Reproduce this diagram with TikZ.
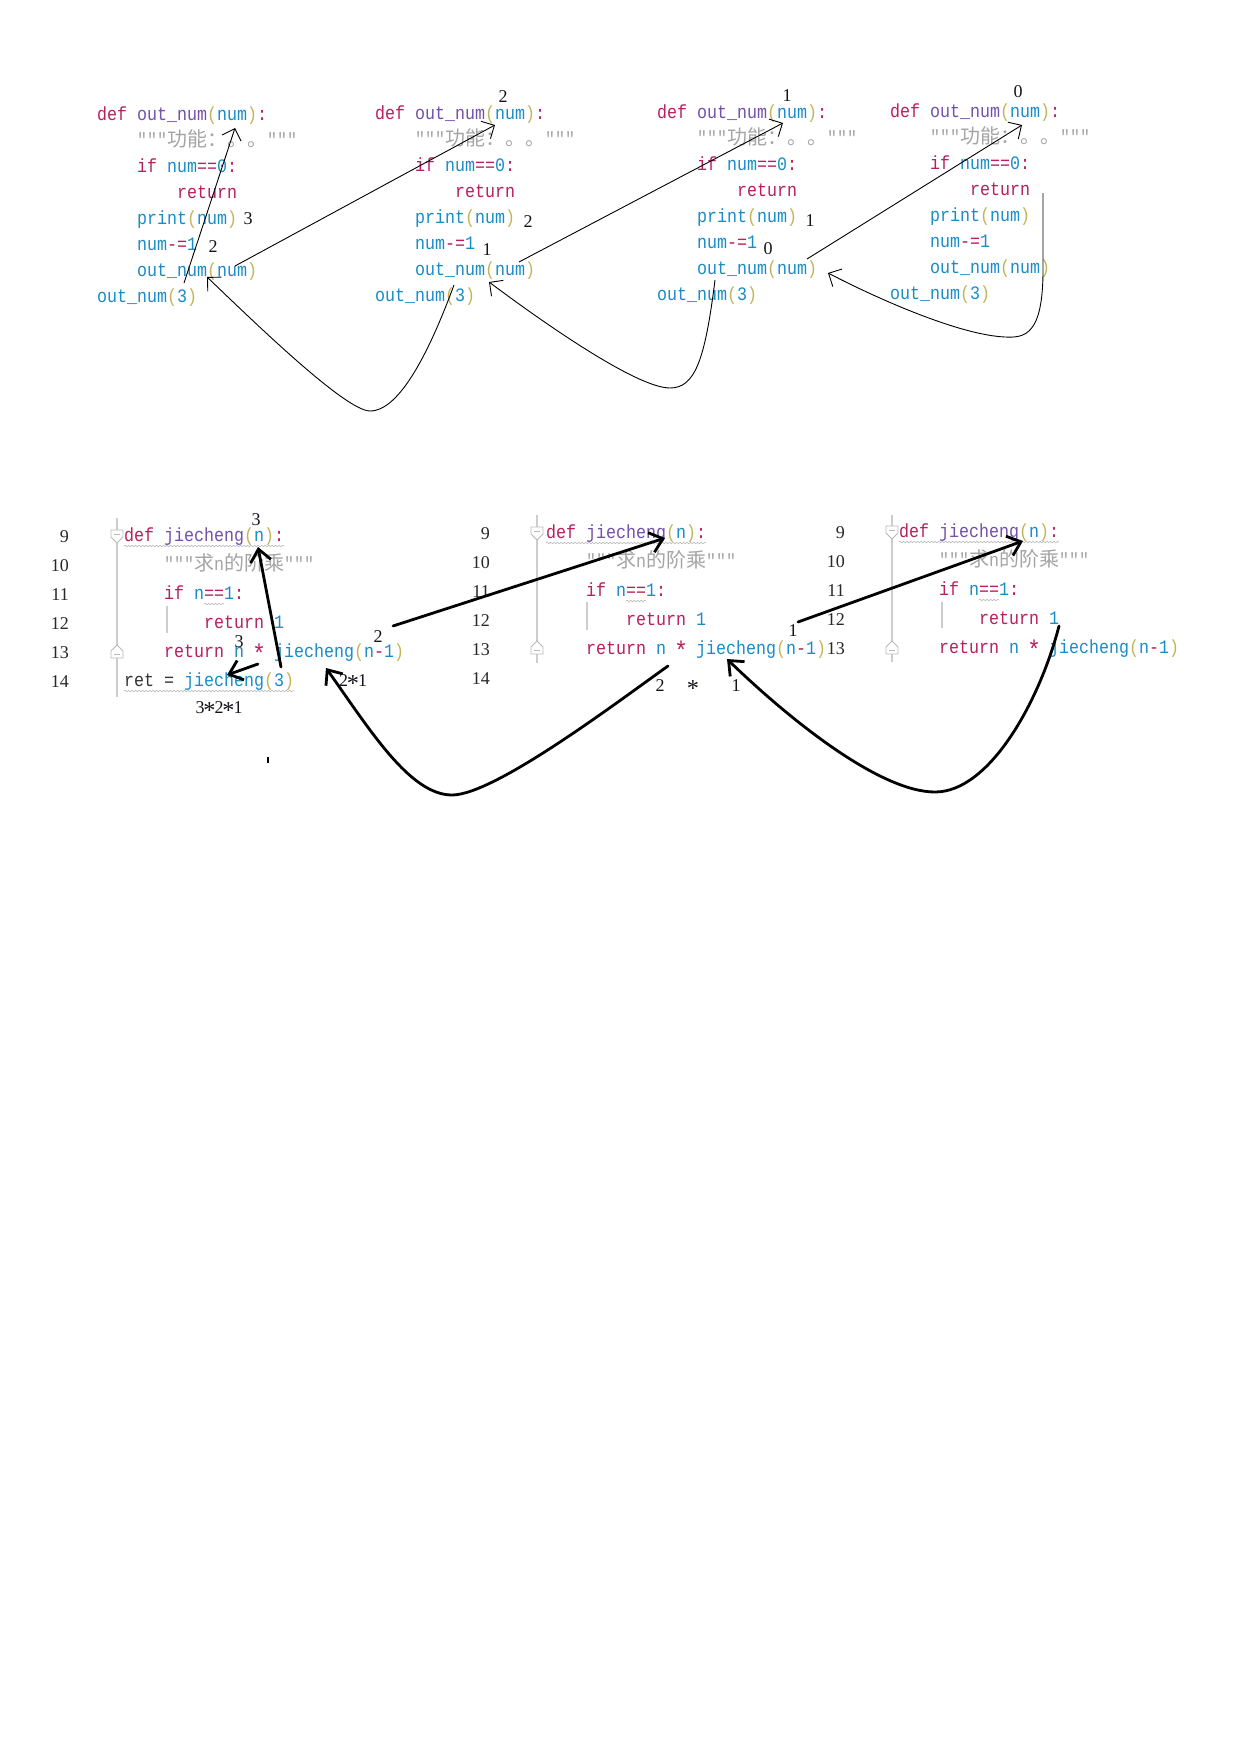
\documentclass[tikz,border=0pt]{standalone}
\usepackage{fontspec}
\setmonofont[FakeStretch=0.877]{Liberation Mono}
\newfontfamily\cjk[Scale=1.0526]{Noto Sans CJK SC}
\newfontfamily\serifann{Liberation Serif}
\usetikzlibrary{arrows.meta,decorations.pathmorphing}
\definecolor{ckw}{RGB}{185,30,95}
\definecolor{cfn}{RGB}{115,80,170}
\definecolor{cbl}{RGB}{25,140,200}
\definecolor{cpa}{RGB}{195,180,90}
\definecolor{cgy}{RGB}{165,165,165}
\definecolor{cdk}{RGB}{50,50,50}
\definecolor{cann}{RGB}{20,20,30}
\definecolor{clno}{RGB}{40,40,40}
\definecolor{cgut}{RGB}{205,205,205}
\definecolor{cfold}{RGB}{185,185,185}
\newcommand\codefont{\ttfamily\fontsize{19}{22}\selectfont}
\newcommand\annfont{\serifann\fontsize{18}{20}\selectfont}
\newcommand\cdKw[1]{\textcolor{ckw}{#1}}
\newcommand\cdFn[1]{\textcolor{cfn}{#1}}
\newcommand\cdBl[1]{\textcolor{cbl}{#1}}
\newcommand\cdPa[1]{\textcolor{cpa}{#1}}
\newcommand\cdGy[1]{\textcolor{cgy}{#1}}
\newcommand\cdDk[1]{\textcolor{cdk}{#1}}
\newcommand\cdast{\makebox[10pt]{\raisebox{-5pt}{\scalebox{1.35}{*}}}}
\newcommand\anast{\makebox[10pt]{\raisebox{-5.5pt}{\scalebox{1.35}{*}}}}
\tikzset{
  folddown/.pic={\draw[draw=cfold,fill=white,line width=0.8pt] (-6,-6) -- (6,-6) -- (6,1) -- (0,7) -- (-6,1) -- cycle;
                 \draw[cfold,line width=0.8pt] (-3,-1.5) -- (3,-1.5);},
  foldup/.pic={\draw[draw=cfold,fill=white,line width=0.8pt] (-6,6) -- (6,6) -- (6,-1) -- (0,-7) -- (-6,-1) -- cycle;
               \draw[cfold,line width=0.8pt] (-3,2) -- (3,2);}
}
\begin{document}
\begin{tikzpicture}[x=1pt,y=-1pt,
  codetext/.style={inner sep=0pt,anchor=base west,font=\codefont},
  annotext/.style={inner sep=0pt,anchor=base,font=\annfont,text=cann},
  lno/.style={inner sep=0pt,anchor=base east,font=\annfont,text=clno},
  thinarrow/.style={line width=0.9pt,-{Straight Barb[angle=90:14pt]}},
  thickarrow/.style={line width=2.8pt,line cap=round,-{Straight Barb[angle=80:16pt]}},
  gut/.style={draw=cgut,line width=1.2pt},
  wavy/.style={draw=cfold,line width=0.6pt,decorate,decoration={snake,amplitude=0.7pt,segment length=3.5pt}}]
\fill[white] (0,0) rectangle (1237,1756);

% ---------- top: out_num blocks ----------
\foreach \i/\xo/\yo in {1/97/120,2/375/119,3/657/118,4/890/117}{
  \node[codetext] (def\i) at (\xo,\yo) {\cdKw{def} \cdFn{out\_num}\cdPa{(}\cdBl{num}\cdPa{)}\cdKw{:}};
  \node[codetext] (doc\i) at (\xo+40,\yo+26) {\cdGy{"""{\cjk 功能：。。}"""}};
  \node[codetext] (if\i) at (\xo+40,\yo+52) {\cdKw{if} \cdBl{num}\cdKw{==}\cdBl{0}\cdKw{:}};
  \node[codetext] (ret\i) at (\xo+80,\yo+78) {\cdKw{return}};
  \node[codetext] (prt\i) at (\xo+40,\yo+104) {\cdBl{print}\cdPa{(}\cdBl{num}\cdPa{)}};
  \node[codetext] (dec\i) at (\xo+40,\yo+130) {\cdBl{num}\cdKw{-=}\cdBl{1}};
  \node[codetext] (call\i) at (\xo+40,\yo+156) {\cdBl{out\_num}\cdPa{(}\cdBl{num}\cdPa{)}};
  \node[codetext] (main\i) at (\xo,\yo+182) {\cdBl{out\_num}\cdPa{(}\cdBl{3}\cdPa{)}};
}
\node[annotext] (ta1) at (248,224) {3};
\node[annotext] (ta2) at (213,252) {2};
\node[annotext] (ta3) at (503,102) {2};
\node[annotext] (ta4) at (528,227) {2};
\node[annotext] (ta5) at (487,255) {1};
\node[annotext] (ta6) at (787,101) {1};
\node[annotext] (ta7) at (810,226) {1};
\node[annotext] (ta8) at (768,254) {0};
\node[annotext] (ta9) at (1018,97) {0};

\coordinate (pA1) at (184,283); \coordinate (pA2) at (235,128);
\coordinate (pB1) at (235,266); \coordinate (pB2) at (495,125);
\coordinate (pC1) at (519,262); \coordinate (pC2) at (783,123);
\coordinate (pD1) at (807,259); \coordinate (pD2) at (1022,125);
\coordinate (pE1) at (1043,193); \coordinate (pE2) at (828,273);
\coordinate (pF1) at (715,280); \coordinate (pF2) at (489,282);
\coordinate (pG1) at (454,285); \coordinate (pG2) at (207,277);
\draw[thinarrow] (pA1) -- (pA2);
\draw[thinarrow] (pB1) -- (pB2);
\draw[thinarrow] (pC1) -- (pC2);
\draw[thinarrow] (pD1) -- (pD2);
\draw[thinarrow] (pE1) -- (1043,270) .. controls (1043,335) and (1025,338) .. (1005,337) .. controls (960,335) and (880,300) .. (pE2);
\draw[thinarrow] (pF1) .. controls (705,360) and (695,388) .. (670,388) .. controls (640,388) and (560,335) .. (pF2);
\draw[thinarrow] (pG1) .. controls (430,350) and (400,411) .. (370,411) .. controls (345,411) and (250,318) .. (pG2);

% ---------- bottom: jiecheng blocks ----------
\draw[gut] (117,518) -- (117,697);
\draw[gut] (537,515) -- (537,663);
\draw[gut] (892,515) -- (892,662);
\draw[gut] (167,606) -- (167,633);
\draw[gut] (587,602) -- (587,630);
\draw[gut] (942,602) -- (942,628);
\pic at (117,536) {folddown};
\pic at (117,652) {foldup};
\pic at (537,533) {folddown};
\pic at (537,648) {foldup};
\pic at (892,532) {folddown};
\pic at (892,648) {foldup};

\foreach \k in {0,...,5}{\pgfmathtruncatemacro\lnn{9+\k}\node[lno] (lnL\k) at (69,542+29*\k) {\lnn};}
\foreach \k in {0,...,5}{\pgfmathtruncatemacro\lnn{9+\k}\node[lno] (lnM\k) at (490,539+29*\k) {\lnn};}
\foreach \k in {0,...,4}{\pgfmathtruncatemacro\lnn{9+\k}\node[lno] (lnR\k) at (845,538+29*\k) {\lnn};}

\node[codetext] (ldef) at (124,541) {\cdKw{def} \cdFn{jiecheng}\cdPa{(}\cdBl{n}\cdPa{)}\cdKw{:}};
\node[codetext] (ldoc) at (164,570) {\cdGy{"""{\cjk 求}n{\cjk 的阶乘}"""}};
\node[codetext] (lif) at (164,599) {\cdKw{if} \cdBl{n}\cdKw{==}\cdBl{1}\cdKw{:}};
\node[codetext] (lret) at (204,628) {\cdKw{return} \cdBl{1}};
\node[codetext] (lrec) at (164,657) {\cdKw{return} \cdBl{n} \cdKw{\cdast} \cdBl{jiecheng}\cdPa{(}\cdBl{n}\cdKw{-}\cdBl{1}\cdPa{)}};
\node[codetext] (lmain) at (124,686) {\cdDk{ret =} \cdBl{jiecheng}\cdPa{(}\cdBl{3}\cdPa{)}};

\node[codetext] (mdef) at (546,538) {\cdKw{def} \cdFn{jiecheng}\cdPa{(}\cdBl{n}\cdPa{)}\cdKw{:}};
\node[codetext] (mdoc) at (586,567) {\cdGy{"""{\cjk 求}n{\cjk 的阶乘}"""}};
\node[codetext] (mif) at (586,596) {\cdKw{if} \cdBl{n}\cdKw{==}\cdBl{1}\cdKw{:}};
\node[codetext] (mret) at (626,625) {\cdKw{return} \cdBl{1}};
\node[codetext] (mrec) at (586,654) {\cdKw{return} \cdBl{n} \cdKw{\cdast} \cdBl{jiecheng}\cdPa{(}\cdBl{n}\cdKw{-}\cdBl{1}\cdPa{)}};

\node[codetext] (rdef) at (899,537) {\cdKw{def} \cdFn{jiecheng}\cdPa{(}\cdBl{n}\cdPa{)}\cdKw{:}};
\node[codetext] (rdoc) at (939,566) {\cdGy{"""{\cjk 求}n{\cjk 的阶乘}"""}};
\node[codetext] (rif) at (939,595) {\cdKw{if} \cdBl{n}\cdKw{==}\cdBl{1}\cdKw{:}};
\node[codetext] (rret) at (979,624) {\cdKw{return} \cdBl{1}};
\node[codetext] (rrec) at (939,653) {\cdKw{return} \cdBl{n} \cdKw{\cdast} \cdBl{jiecheng}\cdPa{(}\cdBl{n}\cdKw{-}\cdBl{1}\cdPa{)}};

\draw[wavy] (124,546) -- (284,546);
\draw[wavy] (124,691) -- (294,691);
\draw[wavy] (204,604) -- (224,604);
\draw[wavy] (546,543) -- (706,543);
\draw[wavy] (626,601) -- (646,601);
\draw[wavy] (899,542) -- (1059,542);
\draw[wavy] (979,600) -- (999,600);

\node[annotext] (ba1) at (256,525) {3};
\node[annotext] (ba2) at (239,647) {3};
\node[annotext] (ba3) at (378,642) {2};
\node[annotext] (ba4) at (353,686) {2\anast1};
\node[annotext] (ba5) at (219,713) {3\anast2\anast1};
\node[annotext] (ba6) at (660,691) {2};
\node[annotext] (ba7) at (693,691) {\anast};
\node[annotext] (ba8) at (736,691) {1};
\node[annotext] (ba9) at (793,636) {1};
\fill[black] (267,757) rectangle (269,763);

\coordinate (qA1) at (281,667); \coordinate (qA2) at (258,547);
\coordinate (qB1) at (258,664); \coordinate (qB2) at (227,675);
\coordinate (qC1) at (393,626); \coordinate (qC2) at (665,538);
\coordinate (qD1) at (798,622); \coordinate (qD2) at (1023,541);
\coordinate (qE1) at (668,666); \coordinate (qE2) at (326,668);
\coordinate (qF1) at (1059,626); \coordinate (qF2) at (727,659);
\draw[thickarrow] (qA1) -- (qA2);
\draw[thickarrow] (qB1) -- (qB2);
\draw[thickarrow] (qC1) -- (qC2);
\draw[thickarrow] (qD1) -- (qD2);
\draw[thickarrow] (qE1) .. controls (620,700) and (495,795) .. (452,795) .. controls (410,795) and (370,730) .. (qE2);
\draw[thickarrow] (qF1) .. controls (1040,700) and (990,792) .. (935,792) .. controls (880,792) and (790,720) .. (qF2);
\end{tikzpicture}
\end{document}
